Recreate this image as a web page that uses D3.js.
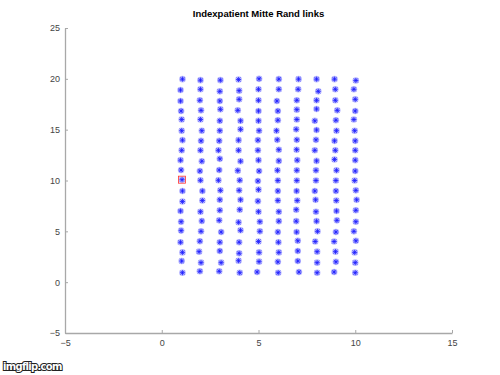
<!DOCTYPE html>
<html>
<head>
<meta charset="utf-8">
<script src="https://cdn.jsdelivr.net/npm/d3@7"></script>
<style>
  body { margin: 0; background: white; }
  svg { display: block; font-family: "Liberation Sans", Arial, sans-serif; }
</style>
</head>
<body>
<script>
// values: each row is one y level (20 down to 1), x from 1 to 10
const xRows = [
  [1.07, 2.00, 3.03, 3.97, 5.03, 6.05, 7.07, 8.00, 8.93, 10.03],
  [0.97, 2.00, 3.00, 4.00, 5.00, 6.05, 7.05, 8.09, 8.97, 9.93],
  [0.97, 1.97, 3.00, 4.00, 5.00, 5.95, 6.98, 8.00, 8.97, 10.00],
  [1.00, 2.03, 3.03, 3.93, 5.00, 6.00, 6.98, 8.00, 9.07, 10.00],
  [1.03, 2.00, 3.00, 4.07, 5.00, 6.00, 6.98, 7.91, 9.00, 9.93],
  [1.03, 2.07, 3.00, 4.07, 5.03, 5.93, 6.95, 8.00, 9.03, 9.97],
  [1.07, 2.03, 2.97, 3.97, 4.97, 5.97, 6.98, 7.97, 8.93, 10.00],
  [1.03, 2.00, 2.93, 3.97, 4.97, 6.05, 6.97, 7.91, 8.97, 10.00],
  [0.97, 2.07, 3.00, 4.07, 5.00, 6.05, 7.00, 8.00, 8.93, 10.00],
  [1.00, 1.97, 2.97, 3.93, 5.03, 5.98, 6.98, 7.97, 9.03, 10.00],
  [1.05, 2.00, 2.93, 4.03, 4.97, 6.00, 6.98, 7.97, 9.00, 9.97],
  [1.07, 2.10, 3.03, 4.00, 5.00, 6.00, 6.97, 7.91, 9.00, 10.03],
  [1.07, 2.10, 3.00, 4.07, 4.97, 6.00, 7.00, 7.95, 9.02, 10.07],
  [0.97, 2.00, 3.00, 4.03, 5.00, 6.05, 6.95, 7.97, 9.03, 10.03],
  [1.00, 2.07, 2.97, 3.97, 5.07, 6.05, 6.95, 8.00, 9.05, 10.03],
  [1.00, 2.03, 3.07, 4.07, 5.07, 6.00, 6.97, 8.05, 9.00, 9.93],
  [0.97, 1.97, 3.00, 4.00, 5.00, 6.03, 7.03, 7.93, 8.91, 10.03],
  [1.07, 1.93, 3.00, 4.00, 5.03, 6.05, 7.03, 8.03, 8.98, 9.97],
  [1.03, 2.03, 3.07, 3.97, 5.03, 6.00, 7.03, 8.03, 9.00, 10.00],
  [1.07, 1.97, 2.97, 4.03, 4.93, 6.02, 7.09, 8.03, 8.91, 10.00]
];
const yRows = [
  [19.97, 19.87, 19.87, 19.93, 20.00, 19.97, 19.97, 19.97, 19.97, 19.84],
  [18.90, 18.97, 18.77, 18.84, 18.97, 18.97, 18.97, 18.77, 18.97, 18.97],
  [17.82, 17.89, 17.82, 17.98, 17.89, 17.82, 17.89, 17.89, 17.89, 17.98],
  [16.84, 16.90, 17.00, 16.90, 16.84, 16.84, 16.97, 17.03, 16.90, 16.84],
  [16.00, 16.00, 15.87, 15.87, 15.87, 15.93, 16.00, 15.87, 15.93, 16.00],
  [14.90, 14.90, 14.90, 15.03, 14.90, 14.90, 15.03, 14.97, 14.90, 14.90],
  [13.97, 13.90, 13.90, 13.97, 13.97, 14.00, 14.00, 14.00, 13.90, 13.90],
  [12.97, 12.97, 12.97, 12.97, 12.97, 13.03, 13.03, 12.97, 12.97, 12.97],
  [12.00, 11.90, 12.13, 11.90, 12.00, 11.93, 12.00, 11.93, 12.07, 12.00],
  [11.03, 10.93, 11.03, 10.97, 10.93, 11.00, 11.00, 11.00, 11.00, 10.93],
  [10.08, 10.02, 10.02, 10.02, 9.95, 10.00, 10.00, 10.00, 10.00, 10.00],
  [8.97, 8.97, 9.03, 9.03, 9.10, 8.97, 8.97, 8.97, 8.97, 9.03],
  [7.93, 8.03, 8.10, 8.10, 7.97, 8.03, 8.03, 8.10, 8.03, 8.10],
  [7.00, 6.93, 7.07, 7.13, 6.93, 6.93, 7.13, 6.93, 7.00, 7.07],
  [5.95, 6.02, 6.08, 5.89, 5.95, 6.00, 6.00, 6.00, 6.08, 5.95],
  [5.07, 5.00, 4.93, 5.10, 5.00, 4.93, 4.93, 5.00, 4.93, 5.00],
  [3.93, 4.03, 3.93, 3.93, 4.00, 3.93, 4.07, 4.00, 4.00, 4.07],
  [2.93, 3.00, 3.07, 2.84, 2.93, 2.93, 3.07, 3.00, 3.00, 2.93],
  [2.08, 1.92, 1.92, 2.11, 2.02, 2.00, 2.08, 1.92, 2.00, 1.92],
  [0.93, 1.07, 1.07, 0.93, 1.00, 0.93, 1.00, 0.93, 1.00, 0.93]
];
// index patient: row 10 (y = 10), first column
const indexRow = 10, indexCol = 0;
const xTicks = [-5, 0, 5, 10, 15];
const yTicks = [-5, 0, 5, 10, 15, 20, 25];
const title = "Indexpatient Mitte Rand links";

const [width, height] = [500, 375];
const margin = { left: 65, right: 48, top: 28, bottom: 42 };

const points = xRows.flatMap((row, i) => row.map((x, j) => ({ x: x, y: yRows[i][j] })));

const svg = d3.select("body").append("svg")
    .attr("width", width)
    .attr("height", height);

const x = d3.scaleLinear().domain([-5, 15]).range([margin.left, width - margin.right]);
const y = d3.scaleLinear().domain([-5, 25]).range([height - margin.bottom, margin.top]);

// axes, ticks pointing inward like the octave plot
const xAxis = svg.append("g")
    .attr("transform", `translate(0,${y(-5)})`)
    .call(d3.axisBottom(x).tickValues(xTicks).tickSizeInner(-3).tickSizeOuter(0).tickPadding(7));
const yAxis = svg.append("g")
    .attr("transform", `translate(${x(-5)},0)`)
    .call(d3.axisLeft(y).tickValues(yTicks).tickSizeInner(-3).tickSizeOuter(0).tickPadding(5));

[xAxis, yAxis].forEach(a => {
  a.select(".domain").attr("stroke", "#a8a8a8").attr("stroke-width", 1.3);
  a.selectAll(".tick line").attr("stroke", "#a8a8a8");
  a.selectAll(".tick text").attr("fill", "#444").style("font-size", "9px")
      .style("font-family", "Liberation Sans, Arial, sans-serif");
});

svg.append("text")
    .attr("x", (x(-5) + x(15)) / 2)
    .attr("y", 17)
    .attr("text-anchor", "middle")
    .style("font-size", "9.5px")
    .style("font-weight", "bold")
    .text(title);

// asterisk markers: soft halo + blue core, like the blurred octave output
const s = 2.5, d = 1.9;
const starPath = p => {
  const cx = x(p.x), cy = y(p.y);
  return `M${cx - s},${cy}H${cx + s}M${cx},${cy - s}V${cy + s}` +
         `M${cx - d},${cy - d}L${cx + d},${cy + d}M${cx - d},${cy + d}L${cx + d},${cy - d}`;
};
svg.append("g")
    .attr("fill", "#b8b8ff")
    .selectAll("circle")
    .data(points)
    .join("circle")
    .attr("cx", p => x(p.x))
    .attr("cy", p => y(p.y))
    .attr("r", 3.3);
svg.append("g")
    .attr("stroke", "#1a1aff")
    .attr("stroke-width", 0.8)
    .selectAll("path")
    .data(points)
    .join("path")
    .attr("d", starPath);

// red square on the index patient
const ip = { x: xRows[indexRow][indexCol], y: yRows[indexRow][indexCol] };
svg.append("rect")
    .attr("x", x(ip.x) - 3.5)
    .attr("y", y(ip.y) - 3.5)
    .attr("width", 7)
    .attr("height", 7)
    .attr("fill", "none")
    .attr("stroke", "#ff3030")
    .attr("stroke-width", 0.8);

// imgflip watermark
svg.append("text")
    .attr("x", 3)
    .attr("y", 370)
    .style("font-size", "10px")
    .style("font-weight", "bold")
    .style("font-family", "DejaVu Sans, sans-serif")
    .attr("letter-spacing", "-0.7")
    .attr("fill", "white")
    .attr("stroke", "#222")
    .attr("stroke-width", 2)
    .attr("paint-order", "stroke")
    .text("imgflip.com");
</script>
</body>
</html>
